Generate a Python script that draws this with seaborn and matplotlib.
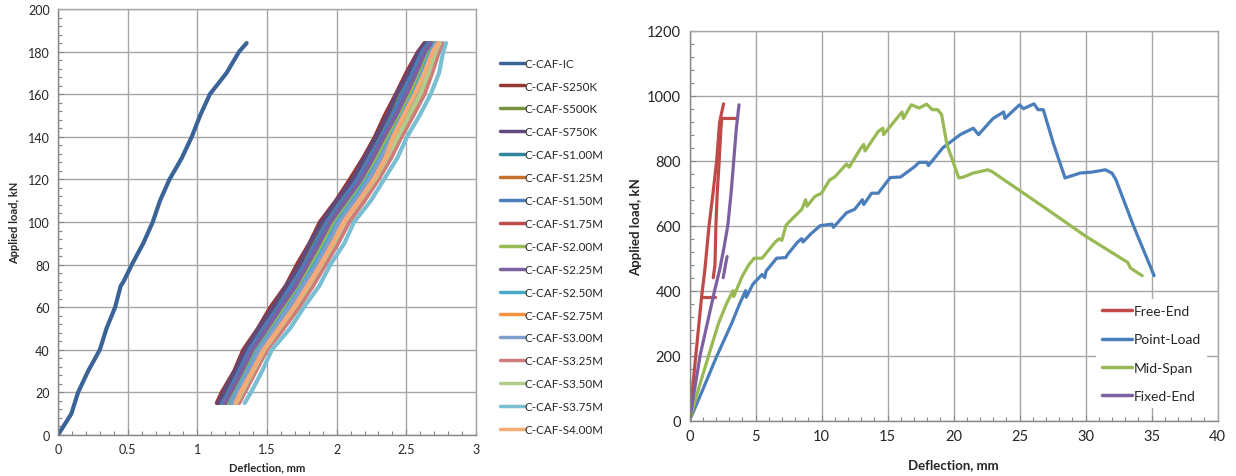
import numpy as np
import pandas as pd
import matplotlib
matplotlib.use("Agg")
import matplotlib.pyplot as plt
import seaborn as sns
from matplotlib.ticker import MultipleLocator, FuncFormatter

sns.set_theme(style="white")
plt.rcParams["font.family"] = ["Lato", "DejaVu Sans"]

# ---------------- left chart data ----------------
IC_LOAD = [0, 10, 20, 30, 40, 50, 60, 70, 72, 80, 90, 100, 110, 120, 130, 140, 150, 160, 170, 180, 184]
IC_DEFL = [0, 0.096, 0.144, 0.216, 0.30, 0.348, 0.41, 0.45, 0.47, 0.53, 0.612, 0.68, 0.732, 0.80, 0.888,
           0.96, 1.02, 1.09, 1.21, 1.30, 1.354]

SPEC_LOAD = [15, 20, 30, 40, 50, 60, 70, 80, 90, 100, 110, 120, 130, 140, 150, 160, 170, 180, 184]
S250K = [1.14, 1.175, 1.265, 1.33, 1.435, 1.525, 1.635, 1.715, 1.805, 1.88, 1.995, 2.095, 2.19, 2.275, 2.345, 2.425, 2.50, 2.585, 2.63]
S500K = [1.165, 1.205, 1.285, 1.355, 1.46, 1.555, 1.66, 1.75, 1.83, 1.91, 2.02, 2.125, 2.22, 2.30, 2.375, 2.45, 2.53, 2.60, 2.65]
S750K = [1.15, 1.19, 1.27, 1.345, 1.44, 1.545, 1.64, 1.735, 1.81, 1.895, 2.0, 2.115, 2.20, 2.285, 2.365, 2.43, 2.515, 2.59, 2.64]
S100M = [1.19, 1.23, 1.31, 1.385, 1.49, 1.59, 1.69, 1.78, 1.865, 1.94, 2.055, 2.16, 2.25, 2.33, 2.41, 2.485, 2.56, 2.625, 2.67]
S125M = [1.21, 1.25, 1.33, 1.405, 1.51, 1.615, 1.715, 1.805, 1.89, 1.965, 2.08, 2.185, 2.275, 2.355, 2.435, 2.51, 2.58, 2.645, 2.685]
S150M = [1.18, 1.225, 1.30, 1.375, 1.475, 1.58, 1.675, 1.77, 1.85, 1.93, 2.04, 2.15, 2.235, 2.32, 2.40, 2.47, 2.545, 2.615, 2.66]
S175M = [1.23, 1.27, 1.35, 1.425, 1.535, 1.64, 1.74, 1.83, 1.91, 1.99, 2.105, 2.21, 2.30, 2.38, 2.46, 2.54, 2.605, 2.665, 2.70]
S200M = [1.22, 1.26, 1.34, 1.415, 1.52, 1.625, 1.73, 1.815, 1.90, 1.98, 2.09, 2.20, 2.285, 2.365, 2.445, 2.525, 2.59, 2.655, 2.69]
S225M = [1.20, 1.24, 1.32, 1.395, 1.50, 1.60, 1.705, 1.79, 1.875, 1.955, 2.065, 2.175, 2.26, 2.34, 2.425, 2.50, 2.57, 2.635, 2.68]
S250M = [1.24, 1.28, 1.36, 1.435, 1.545, 1.65, 1.75, 1.84, 1.925, 2.005, 2.115, 2.22, 2.31, 2.39, 2.47, 2.55, 2.615, 2.675, 2.71]
S275M = [1.26, 1.30, 1.38, 1.46, 1.57, 1.68, 1.775, 1.87, 1.955, 2.03, 2.14, 2.25, 2.345, 2.41, 2.49, 2.575, 2.64, 2.695, 2.725]
S300M = [1.25, 1.29, 1.37, 1.445, 1.555, 1.66, 1.76, 1.855, 1.94, 2.02, 2.13, 2.235, 2.32, 2.40, 2.48, 2.565, 2.625, 2.685, 2.715]
S325M = [1.30, 1.34, 1.42, 1.50, 1.62, 1.73, 1.83, 1.92, 2.01, 2.09, 2.20, 2.30, 2.39, 2.465, 2.55, 2.63, 2.685, 2.735, 2.76]
S350M = [1.28, 1.32, 1.40, 1.48, 1.59, 1.70, 1.80, 1.89, 1.98, 2.055, 2.165, 2.275, 2.36, 2.44, 2.52, 2.60, 2.66, 2.71, 2.74]
S375M = [1.34, 1.385, 1.465, 1.535, 1.665, 1.765, 1.875, 1.955, 2.055, 2.125, 2.245, 2.34, 2.435, 2.505, 2.595, 2.675, 2.735, 2.765, 2.785]
S400M = [1.275, 1.31, 1.395, 1.475, 1.585, 1.695, 1.79, 1.885, 1.97, 2.05, 2.16, 2.265, 2.35, 2.405, 2.48, 2.56, 2.63, 2.69, 2.73]

LEFT_NAMES = ["C-CAF-IC", "C-CAF-S250K", "C-CAF-S500K", "C-CAF-S750K", "C-CAF-S1.00M", "C-CAF-S1.25M",
              "C-CAF-S1.50M", "C-CAF-S1.75M", "C-CAF-S2.00M", "C-CAF-S2.25M", "C-CAF-S2.50M", "C-CAF-S2.75M",
              "C-CAF-S3.00M", "C-CAF-S3.25M", "C-CAF-S3.50M", "C-CAF-S3.75M", "C-CAF-S4.00M"]
LEFT_COLORS = ["#3A6397", "#953735", "#77933C", "#604A7B", "#31859C", "#C4702F",
               "#4A7EBB", "#BE4B48", "#98B954", "#7D60A0", "#46AAC5", "#F69240",
               "#7E9ECC", "#CE7B79", "#B2CC8A", "#78BFD3", "#F8AA76"]

# ---------------- right chart data ----------------
FREE_END_A_X = [0, 0.45, 0.92, 1.17, 1.48, 1.78, 2.06, 2.28, 2.5, 2.58]
FREE_END_A_Y = [0, 190, 382, 467, 600, 700, 800, 918, 960, 975]
FREE_END_B_X = [0.92, 1.96]
FREE_END_B_Y = [382, 382]
FREE_END_C_X = [1.80, 1.93, 2.0, 2.1, 2.25, 2.38, 2.45, 3.65]
FREE_END_C_Y = [440, 480, 600, 700, 800, 900, 930, 930]

POINT_LOAD_X = [0, 1.0, 2.06, 3.2, 3.8, 4.25, 4.3, 4.8, 5.5, 5.7, 5.8, 6.6, 7.3, 7.4, 8.2, 8.5, 8.6, 9.2, 9.9,
                10.8, 10.9, 11.9, 12.5, 13.1, 13.2, 13.8, 14.3, 15.2, 16.0, 17.0, 17.4, 18.0, 18.1, 19.2, 20.5,
                21.5, 21.9, 22.0, 23.0, 23.8, 23.9, 25.0, 25.3, 26.1, 26.4, 26.8, 27.6, 28.45, 29.6, 30.5, 31.5,
                32.0, 32.3, 33.6, 35.2]
POINT_LOAD_Y = [0, 95, 198, 300, 360, 400, 380, 420, 450, 440, 460, 500, 502, 510, 550, 560, 550, 575, 600,
                605, 595, 640, 650, 680, 665, 700, 700, 748, 750, 780, 795, 795, 785, 840, 880,
                900, 880, 885, 930, 950, 930, 972, 960, 975, 957, 957, 849, 747, 762, 765, 772,
                762, 742, 603, 446]

MID_SPAN_X = [0, 0.7, 1.43, 2.2, 2.8, 3.3, 3.35, 4.0, 4.5, 4.9, 5.5, 5.6, 6.5, 6.8, 7.0, 7.3, 7.5, 8.5, 8.8,
              8.9, 9.5, 10.0, 10.6, 11.0, 11.9, 12.1, 13.0, 13.2, 13.3, 14.3, 14.65, 14.7, 15.9, 16.1, 16.2,
              16.8, 17.4, 17.96, 18.4, 18.8, 19.1, 19.5, 20.4, 20.7, 21.5, 22.6, 22.9, 24.3, 27.0, 30.0,
              33.2, 33.4, 34.3]
MID_SPAN_Y = [0, 100, 198, 300, 360, 400, 382, 445, 480, 500, 500, 505, 550, 560, 555, 600, 610, 650, 680,
              660, 690, 700, 740, 750, 790, 780, 840, 850, 830, 890, 900, 880, 940, 950, 930,
              972, 962, 974, 957, 957, 942, 850, 747, 749, 762, 772, 767, 728, 653, 568,
              487, 470, 446]

FIXED_END_A_X = [0, 0.8, 1.9, 2.3, 2.6, 2.9, 3.15, 3.35, 3.55, 3.75]
FIXED_END_A_Y = [0, 200, 400, 467, 530, 600, 700, 800, 900, 972]
FIXED_END_B_X = [2.55, 2.65, 2.75, 2.85]
FIXED_END_B_Y = [440, 462, 485, 505]

RIGHT_NAMES = ["Free-End", "Point-Load", "Mid-Span", "Fixed-End"]
RIGHT_COLORS = ["#BE4B48", "#4A7EBB", "#98B954", "#7D60A0"]

# ---------------- build tables ----------------
left_series = {
    "C-CAF-IC": (IC_DEFL, IC_LOAD),
    "C-CAF-S250K": (S250K, SPEC_LOAD), "C-CAF-S500K": (S500K, SPEC_LOAD),
    "C-CAF-S750K": (S750K, SPEC_LOAD), "C-CAF-S1.00M": (S100M, SPEC_LOAD),
    "C-CAF-S1.25M": (S125M, SPEC_LOAD), "C-CAF-S1.50M": (S150M, SPEC_LOAD),
    "C-CAF-S1.75M": (S175M, SPEC_LOAD), "C-CAF-S2.00M": (S200M, SPEC_LOAD),
    "C-CAF-S2.25M": (S225M, SPEC_LOAD), "C-CAF-S2.50M": (S250M, SPEC_LOAD),
    "C-CAF-S2.75M": (S275M, SPEC_LOAD), "C-CAF-S3.00M": (S300M, SPEC_LOAD),
    "C-CAF-S3.25M": (S325M, SPEC_LOAD), "C-CAF-S3.50M": (S350M, SPEC_LOAD),
    "C-CAF-S3.75M": (S375M, SPEC_LOAD), "C-CAF-S4.00M": (S400M, SPEC_LOAD),
}
rows = []
for name in LEFT_NAMES:
    xs, ys = left_series[name]
    for i, (x, y) in enumerate(zip(xs, ys)):
        rows.append((name, i, x, y))
df_left = pd.DataFrame(rows, columns=["series", "order", "defl", "load"])

right_segments = [
    ("Free-End", 0, FREE_END_A_X, FREE_END_A_Y),
    ("Free-End", 1, FREE_END_B_X, FREE_END_B_Y),
    ("Free-End", 2, FREE_END_C_X, FREE_END_C_Y),
    ("Point-Load", 3, POINT_LOAD_X, POINT_LOAD_Y),
    ("Mid-Span", 4, MID_SPAN_X, MID_SPAN_Y),
    ("Fixed-End", 5, FIXED_END_A_X, FIXED_END_A_Y),
    ("Fixed-End", 6, FIXED_END_B_X, FIXED_END_B_Y),
]
rows = []
for name, seg, xs, ys in right_segments:
    for x, y in zip(xs, ys):
        rows.append((name, seg, x, y))
df_right = pd.DataFrame(rows, columns=["series", "seg", "defl", "load"])

# ---------------- figure ----------------
W, H = 1236, 477
fig = plt.figure(figsize=(W / 100, H / 100), dpi=100)
axL = fig.add_axes([58 / W, 1 - 436 / H, 418 / W, 426 / H])
axR = fig.add_axes([689.5 / W, 1 - 421.7 / H, 528 / W, 390 / H])

GRID = "#A6A6A6"
AXC = "#868686"
TXT = "#262626"

sns.lineplot(data=df_left, x="defl", y="load", hue="series", hue_order=LEFT_NAMES,
             palette=dict(zip(LEFT_NAMES, LEFT_COLORS)), sort=False, estimator=None,
             units="series", linewidth=3.0, ax=axL, legend=True)
sns.lineplot(data=df_right, x="defl", y="load", hue="series", hue_order=RIGHT_NAMES,
             palette=dict(zip(RIGHT_NAMES, RIGHT_COLORS)), sort=False, estimator=None,
             units="seg", linewidth=2.3, ax=axR, legend=True)

fmt = FuncFormatter(lambda v, p: f"{v:g}")
for ax, (xmax, xmaj, xmin), (ymax, ymaj, ymin), tfs in [
        (axL, (3, 0.5, 0.1), (200, 20, 4), 9),
        (axR, (40, 5, 1), (1200, 200, 40), 10.5)]:
    ax.set_xlim(0, xmax)
    ax.set_ylim(0, ymax)
    ax.xaxis.set_major_locator(MultipleLocator(xmaj))
    ax.xaxis.set_minor_locator(MultipleLocator(xmin))
    ax.yaxis.set_major_locator(MultipleLocator(ymaj))
    ax.yaxis.set_minor_locator(MultipleLocator(ymin))
    ax.xaxis.set_major_formatter(fmt)
    ax.yaxis.set_major_formatter(fmt)
    ax.grid(True, which="major", color=GRID, linewidth=1.0)
    ax.set_axisbelow(True)
    ax.tick_params(which="both", direction="in", colors=AXC, labelcolor=TXT,
                   bottom=True, left=True, top=False, right=False)
    ax.tick_params(which="major", length=4, width=0.8, labelsize=tfs, pad=6)
    ax.tick_params(which="minor", length=3, width=0.8)
    for s in ["left", "bottom"]:
        ax.spines[s].set_color(AXC)
        ax.spines[s].set_linewidth(1.0)
    for s in ["top", "right"]:
        ax.spines[s].set_color(GRID)
        ax.spines[s].set_linewidth(1.0)

axL.set_xlabel("Deflection, mm", fontsize=8, fontweight="bold", color=TXT)
axL.set_ylabel("Applied load, kN", fontsize=8, fontweight="bold", color=TXT)
axL.xaxis.set_label_coords(0.5, -0.062)
axL.yaxis.set_label_coords(-0.09, 0.5)
axR.set_xlabel("Deflection, mm", fontsize=9.5, fontweight="bold", color=TXT)
axR.set_ylabel("Applied load, kN", fontsize=9.5, fontweight="bold", color=TXT)
axR.xaxis.set_label_coords(0.5, -0.095)
axR.yaxis.set_label_coords(-0.09, 0.5)

# legends
h, l = axL.get_legend_handles_labels()
axL.get_legend().remove()
for hh in h:
    hh.set_linewidth(2.5)
fig.legend(h, l, loc="upper left", bbox_to_anchor=(495 / W, 1 - 54 / H), frameon=False,
           fontsize=8.4, handlelength=2.05, handletextpad=0.1, labelspacing=1.02,
           labelcolor=TXT, borderaxespad=0)

h, l = axR.get_legend_handles_labels()
axR.get_legend().remove()
for hh in h:
    hh.set_linewidth(2.5)
leg = axR.legend(h, l, loc="upper left", bbox_to_anchor=(1096 / W, 1 - 300 / H),
                 bbox_transform=fig.transFigure, frameon=True, fancybox=False,
                 facecolor="white", edgecolor="none", framealpha=1,
                 fontsize=10, handlelength=2.15, handletextpad=0.12, labelspacing=1.17,
                 labelcolor=TXT, borderpad=0.45, borderaxespad=0)

fig.savefig("out.png", dpi=100, facecolor="white")
